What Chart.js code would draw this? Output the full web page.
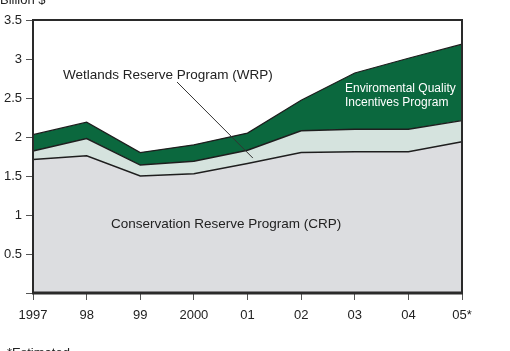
<!DOCTYPE html>
<html>
<head>
<meta charset="utf-8">
<script src="https://cdn.jsdelivr.net/npm/chart.js@4"></script>
<style>
  html, body { margin: 0; padding: 0; background: #fff; }
  #wrap { width: 510px; height: 351px; }
</style>
</head>
<body>
<div id="wrap"><canvas id="chart" width="510" height="351"></canvas></div>
<script>
// ===== DATA =====
const years = ['1997', '98', '99', '2000', '01', '02', '03', '04', '05*'];
// billion $, each program stacked on the one below
const crp  = [1.71, 1.76, 1.50, 1.53, 1.66, 1.80, 1.81, 1.81, 1.94];
const wrp  = [0.11, 0.22, 0.14, 0.16, 0.17, 0.28, 0.29, 0.29, 0.27];
const eqip = [0.21, 0.21, 0.16, 0.21, 0.22, 0.39, 0.72, 0.91, 0.98];
const yTicks = [0, 0.5, 1, 1.5, 2, 2.5, 3, 3.5];

const font = 'Liberation Sans, Arial, Helvetica, sans-serif';
const ink = '#222';

// frame + labels drawn on top of the areas
const decor = {
  id: 'decor',
  afterDatasetsDraw(chart) {
    const { ctx, chartArea: a, scales } = chart;
    ctx.save();
    // box around plot
    ctx.strokeStyle = '#2a2a2a';
    ctx.lineWidth = 2;
    ctx.strokeRect(a.left, a.top, a.right - a.left, a.bottom - a.top);
    ctx.lineWidth = 3;
    ctx.beginPath();
    ctx.moveTo(a.left - 1, a.bottom);
    ctx.lineTo(a.right + 1, a.bottom);
    ctx.stroke();

    // leader line for WRP
    ctx.strokeStyle = '#333';
    ctx.lineWidth = 1;
    ctx.beginPath();
    ctx.moveTo(177, 82);
    ctx.lineTo(scales.x.getPixelForValue(4.1), scales.y.getPixelForValue(1.73));
    ctx.stroke();

    ctx.textBaseline = 'middle';
    ctx.textAlign = 'left';
    ctx.fillStyle = ink;
    ctx.font = '13.5px ' + font;
    ctx.fillText('Wetlands Reserve Program (WRP)', 63, 75);
    ctx.fillText('Conservation Reserve Program (CRP)', 111, 224);

    ctx.fillStyle = '#fff';
    ctx.font = '12px ' + font;
    ctx.fillText('Enviromental Quality', 345, 89);
    ctx.fillText('Incentives Program', 345, 103);

    ctx.fillStyle = ink;
    ctx.font = '13px ' + font;
    ctx.textBaseline = 'alphabetic';
    ctx.fillText('Billion $', 0, 4);
    ctx.fillText('*Estimated', 7, 357);
    ctx.restore();
  }
};

new Chart(document.getElementById('chart'), {
  type: 'line',
  data: {
    labels: years,
    datasets: [
      {
        label: 'Conservation Reserve Program (CRP)',
        data: crp,
        fill: 'origin',
        backgroundColor: '#dcdde0',
        borderColor: '#1e1e1e',
        borderWidth: 1.5
      },
      {
        label: 'Wetlands Reserve Program (WRP)',
        data: wrp,
        fill: '-1',
        backgroundColor: '#d5e3de',
        borderColor: '#1e1e1e',
        borderWidth: 1.5
      },
      {
        label: 'Enviromental Quality Incentives Program',
        data: eqip,
        fill: '-1',
        backgroundColor: '#0b683e',
        borderColor: '#1e1e1e',
        borderWidth: 1.2
      }
    ]
  },
  options: {
    responsive: false,
    animation: false,
    layout: { padding: { top: 20, right: 48, left: 0, bottom: 0 } },
    elements: { point: { radius: 0 }, line: { tension: 0 } },
    plugins: { legend: { display: false }, tooltip: { enabled: false } },
    scales: {
      x: {
        offset: false,
        grid: { drawOnChartArea: false, tickLength: 7, color: '#555', lineWidth: 1 },
        border: { display: false },
        ticks: { color: ink, font: { family: font, size: 13 }, padding: 8, maxRotation: 0 },
        afterFit(s) { s.height = 58; }
      },
      y: {
        stacked: true,
        min: 0,
        max: 3.5,
        afterBuildTicks(s) { s.ticks = yTicks.map(v => ({ value: v })); },
        grid: { drawOnChartArea: false, tickLength: 7, color: '#555', lineWidth: 1 },
        border: { display: false },
        ticks: {
          color: ink,
          font: { family: font, size: 13 },
          padding: 4,
          callback: v => (v === 0 ? '' : String(v))
        },
        afterFit(s) { s.width = 33; }
      }
    }
  },
  plugins: [decor]
});
</script>
</body>
</html>
